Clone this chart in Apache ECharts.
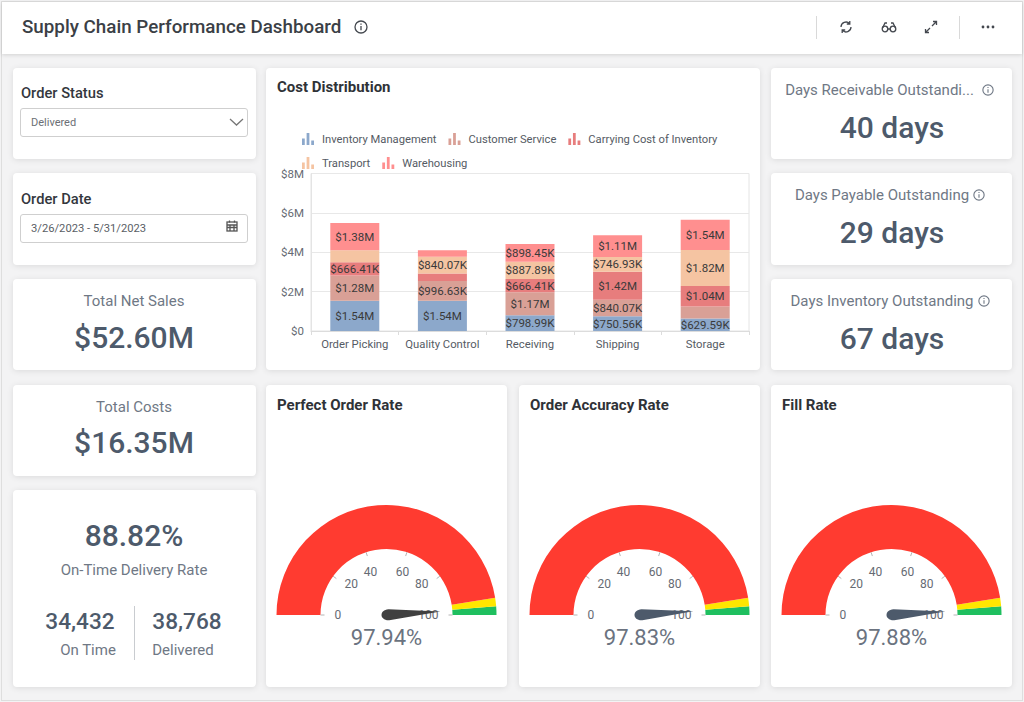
<!DOCTYPE html>
<html>
<head>
<meta charset="utf-8">
<title>Supply Chain Performance Dashboard</title>
<script src="https://cdn.jsdelivr.net/npm/echarts@6/dist/echarts.min.js"></script>
<style>
html, body { margin: 0; padding: 0; }
body { width: 1024px; height: 702px; background: #f3f3f4; font-family: Roboto, sans-serif; position: relative; overflow: hidden; }
.frame { position: absolute; left: 1px; top: 1px; width: 1020px; height: 698px; border: 1px solid #dedede; }
.header { position: absolute; left: 2px; top: 2px; width: 1020px; height: 52px; background: #fff; box-shadow: 0 1px 4px rgba(0,0,0,.14); }
.card { position: absolute; background: #fff; border-radius: 4px; box-shadow: 0 1px 6px rgba(0,0,0,.10); }
.t { position: absolute; white-space: nowrap; transform: translate(-50%, -50%); }
.l { position: absolute; white-space: nowrap; transform: translateY(-50%); }
.kpi { font-size: 30px; font-weight: 500; color: #4d5a6b; }
.cap { font-size: 15px; color: #6f7885; }
.num { font-size: 22.6px; font-weight: 500; color: #4d5a6b; }
.lab { font-size: 14.7px; font-weight: 500; color: #33373d; }
.box { position: absolute; left: 20px; width: 226px; height: 27px; background: #fff; border: 1px solid #cfcfcf; border-radius: 3px; }
.chart { position: absolute; }
.sep { position: absolute; width: 1px; background: #d9d9d9; }
svg.i { position: absolute; fill: none; stroke: #44484f; stroke-width: 1.3; }
</style>
</head>
<body>
<div class="frame"></div>
<div class="header"></div>
<div class="l" style="left:22px;top:27px;font-size:18.8px;font-weight:500;color:#3b3f46">Supply Chain Performance Dashboard</div>
<svg class="i" style="left:354px;top:20px" width="14" height="14" viewBox="0 0 14 14"><circle cx="7" cy="7" r="6"/><path d="M7 6v4.2M7 3.6v1.2"/></svg>
<div class="sep" style="left:816px;top:16px;height:23px"></div>
<div class="sep" style="left:959px;top:16px;height:23px"></div>
<svg class="i" style="left:838px;top:19px" width="16" height="16" viewBox="0 0 16 16"><path d="M3 8a5 5 0 0 1 8.6-3.4M13 8a5 5 0 0 1-8.6 3.4M11.8 2v3h-3M4.2 14v-3h3"/></svg>
<svg class="i" style="left:881px;top:20px" width="16" height="14" viewBox="0 0 16 14"><circle cx="4" cy="9" r="2.8"/><circle cx="12" cy="9" r="2.8"/><path d="M6.8 9h2.4M1.5 8L4 3h2M14.5 8L12 3h-2"/></svg>
<svg class="i" style="left:924px;top:20px" width="14" height="14" viewBox="0 0 14 14"><path d="M8 6l4.5-4.5M9 1.5h3.5V5M6 8l-4.5 4.5M5 12.5H1.5V9"/></svg>
<svg class="i" style="left:980px;top:24px;stroke:none;fill:#44484f" width="16" height="6" viewBox="0 0 16 6"><circle cx="3" cy="3" r="1.4"/><circle cx="8" cy="3" r="1.4"/><circle cx="13" cy="3" r="1.4"/></svg>

<div class="card" style="left:13px;top:68px;width:243px;height:91px"></div>
<div class="card" style="left:13px;top:173px;width:243px;height:92px"></div>
<div class="card" style="left:13px;top:279px;width:243px;height:91px"></div>
<div class="card" style="left:13px;top:385px;width:243px;height:91px"></div>
<div class="card" style="left:13px;top:490px;width:243px;height:197px"></div>
<div class="card" style="left:266px;top:68px;width:494px;height:302px"></div>
<div class="card" style="left:771px;top:68px;width:241px;height:91px"></div>
<div class="card" style="left:771px;top:173px;width:241px;height:92px"></div>
<div class="card" style="left:771px;top:279px;width:241px;height:91px"></div>
<div class="card" style="left:266px;top:385px;width:241px;height:302px"></div>
<div class="card" style="left:519px;top:385px;width:241px;height:302px"></div>
<div class="card" style="left:771px;top:385px;width:241px;height:302px"></div>

<div class="l lab" style="left:21px;top:92.5px">Order Status</div>
<div class="box" style="top:108px"></div>
<div class="l" style="left:31px;top:122px;font-size:11px;color:#6b6f76">Delivered</div>
<svg class="i" style="left:229px;top:118px;stroke:#777" width="15" height="8" viewBox="0 0 15 8"><path d="M1 1l6.5 6L14 1"/></svg>
<div class="l lab" style="left:21px;top:198.5px">Order Date</div>
<div class="box" style="top:214px"></div>
<div class="l" style="left:31px;top:228px;font-size:11.2px;color:#5a5e65">3/26/2023 - 5/31/2023</div>
<svg class="i" style="left:226px;top:220px;stroke:#555" width="12" height="12" viewBox="0 0 12 12"><rect x="1" y="2" width="10" height="9"/><path d="M1 5h10M1 7.5h10M4 5v6M8 5v6M3.5 0.5v2M8.5 0.5v2"/></svg>

<div class="t cap" style="left:134px;top:300.5px">Total Net Sales</div>
<div class="t kpi" style="left:134px;top:337px">$52.60M</div>
<div class="t cap" style="left:134px;top:406.5px">Total Costs</div>
<div class="t kpi" style="left:134px;top:442px">$16.35M</div>
<div class="t kpi" style="left:134px;top:535px">88.82%</div>
<div class="t cap" style="left:134px;top:570px">On-Time Delivery Rate</div>
<div class="t num" style="left:80px;top:621px">34,432</div>
<div class="t num" style="left:187px;top:621px">38,768</div>
<div class="t cap" style="left:88px;top:650px">On Time</div>
<div class="t cap" style="left:183px;top:650px">Delivered</div>
<div class="sep" style="left:134px;top:606px;height:54px;background:#c9ccd0"></div>

<div class="t cap" style="left:879.5px;top:90px">Days Receivable Outstandi...</div>
<div class="t kpi" style="left:892px;top:127px">40 days</div>
<div class="t cap" style="left:882px;top:195px">Days Payable Outstanding</div>
<div class="t kpi" style="left:892px;top:232px">29 days</div>
<div class="t cap" style="left:882px;top:301px">Days Inventory Outstanding</div>
<div class="t kpi" style="left:892px;top:338px">67 days</div>
<svg class="i" style="left:982px;top:84px;stroke:#6f7885" width="12" height="12" viewBox="0 0 14 14"><circle cx="7" cy="7" r="6"/><path d="M7 6v4.2M7 3.6v1.2"/></svg>
<svg class="i" style="left:973px;top:189px;stroke:#6f7885" width="12" height="12" viewBox="0 0 14 14"><circle cx="7" cy="7" r="6"/><path d="M7 6v4.2M7 3.6v1.2"/></svg>
<svg class="i" style="left:978px;top:295px;stroke:#6f7885" width="12" height="12" viewBox="0 0 14 14"><circle cx="7" cy="7" r="6"/><path d="M7 6v4.2M7 3.6v1.2"/></svg>

<div class="chart" id="costChart" style="left:266px;top:68px;width:494px;height:302px"></div>
<div class="chart" id="gauge0" style="left:266px;top:385px;width:241px;height:302px"></div>
<div class="chart" id="gauge1" style="left:519px;top:385px;width:241px;height:302px"></div>
<div class="chart" id="gauge2" style="left:771px;top:385px;width:241px;height:302px"></div>

<script>
var processes = ['Order Picking', 'Quality Control', 'Receiving', 'Shipping', 'Storage'];
var yTicks = [0, 2000000, 4000000, 6000000, 8000000];
var inventoryManagement = [1540000, 1540000, 798990, 750560, 629590];
var customerService = [1280000, 996630, 1170000, 840070, 620000];
var carryingCost = [666410, 390000, 666410, 1420000, 1040000];
var transport = [620000, 840070, 887890, 746930, 1820000];
var warehousing = [1380000, 340000, 898450, 1110000, 1540000];

var gaugeTitles = ['Perfect Order Rate', 'Order Accuracy Rate', 'Fill Rate'];
var gaugeValues = [97.94, 97.83, 97.88];
var gaugePointers = ['#404040', '#4d5a6b', '#4d5a6b'];
var gaugeBands = [[0.95, '#ff3b30'], [0.975, '#ffe600'], [1, '#1fbf5f']];

var barIcon = 'path://M0 6h3v7H0zM5 0h3v13H5zM10 8h3v5h-3z';
var labelMin = 625000;

function money(v) {
    if (v === 0) return '$0';
    if (v >= 1000000) return '$' + (v / 1000000).toFixed(2) + 'M';
    return '$' + (v / 1000).toFixed(2) + 'K';
}

function barSeries(name, data, color) {
    return {
        name: name,
        type: 'bar',
        stack: 'cost',
        barWidth: 49,
        data: data,
        itemStyle: { color: color },
        label: {
            show: true,
            position: 'inside',
            fontFamily: 'Roboto',
            fontSize: 11.5,
            color: '#3a3a3a',
            // 太小的段不显示标签
            formatter: function (p) { return p.value < labelMin ? '' : money(p.value); }
        }
    };
}

var costChart = echarts.init(document.getElementById('costChart'), null, { renderer: 'svg' });
costChart.setOption({
    animation: false,
    textStyle: { fontFamily: 'Roboto' },
    title: {
        text: 'Cost Distribution', left: 11, top: 11, padding: 0,
        textStyle: { fontFamily: 'Roboto', fontSize: 15, fontWeight: 'bold', color: '#2f3237' }
    },
    legend: {
        left: 36, top: 65, width: 430, itemWidth: 12, itemHeight: 13, itemGap: 12,
        padding: 0,
        icon: barIcon,
        textStyle: { fontFamily: 'Roboto', fontSize: 11.2, color: '#555b64', padding: [0, 0, 0, 3] }
    },
    grid: { left: 45, right: 11, top: 105.5, bottom: 39, show: true, borderColor: '#e4e4e4', borderWidth: 1 },
    xAxis: {
        type: 'category',
        data: processes,
        axisLine: { lineStyle: { color: '#dcdcdc' } },
        axisTick: { show: true, length: 4, lineStyle: { color: '#dcdcdc' } },
        axisLabel: { interval: 0, fontFamily: 'Roboto', fontSize: 11.3, color: '#555b64', margin: 8 }
    },
    yAxis: {
        type: 'value',
        min: yTicks[0], max: yTicks[yTicks.length - 1], interval: yTicks[1],
        axisLine: { show: true, lineStyle: { color: '#e4e4e4' } },
        axisTick: { show: false },
        splitLine: { lineStyle: { color: '#e8e8e8' } },
        axisLabel: { fontFamily: 'Roboto', fontSize: 11.5, color: '#666b73', margin: 7, formatter: function (v) { return v === 0 ? '$0' : '$' + v / 1000000 + 'M'; } }
    },
    series: [
        barSeries('Inventory Management', inventoryManagement, '#8ca8cb'),
        barSeries('Customer Service', customerService, '#d9a096'),
        barSeries('Carrying Cost of Inventory', carryingCost, '#e77d7d'),
        barSeries('Transport', transport, '#f5c4a2'),
        barSeries('Warehousing', warehousing, '#ff8f8f')
    ]
});

gaugeTitles.forEach(function (title, i) {
    var chart = echarts.init(document.getElementById('gauge' + i), null, { renderer: 'svg' });
    chart.setOption({
        animation: false,
        title: {
            text: title, left: 11, top: 12, padding: 0,
            textStyle: { fontFamily: 'Roboto', fontSize: 15, fontWeight: 'bold', color: '#2f3237' }
        },
        series: [{
            type: 'gauge',
            center: [120.5, 230],
            radius: 110,
            startAngle: 180,
            endAngle: 0,
            min: 0,
            max: 100,
            splitNumber: 5,
            axisLine: { lineStyle: { width: 44, color: gaugeBands } },
            axisTick: { show: false },
            splitLine: { length: 4, distance: 0, lineStyle: { color: '#b5b5b5', width: 1 } },
            axisLabel: { distance: 54, fontFamily: 'Roboto', fontSize: 12, color: '#666b73' },
            pointer: {
                icon: 'path://M5 0L10 52C10 62 0 62 0 52Z',
                length: 59,
                width: 11,
                offsetCenter: [0, 5],
                itemStyle: { color: gaugePointers[i] }
            },
            anchor: { show: false },
            title: { show: false },
            detail: {
                valueAnimation: false,
                offsetCenter: [0, 22],
                fontFamily: 'Roboto',
                fontSize: 22,
                fontWeight: 'normal',
                color: '#6b7380',
                formatter: function (v) { return v.toFixed(2) + '%'; }
            },
            data: [{ value: gaugeValues[i] }]
        }]
    });
});
</script>
</body>
</html>
